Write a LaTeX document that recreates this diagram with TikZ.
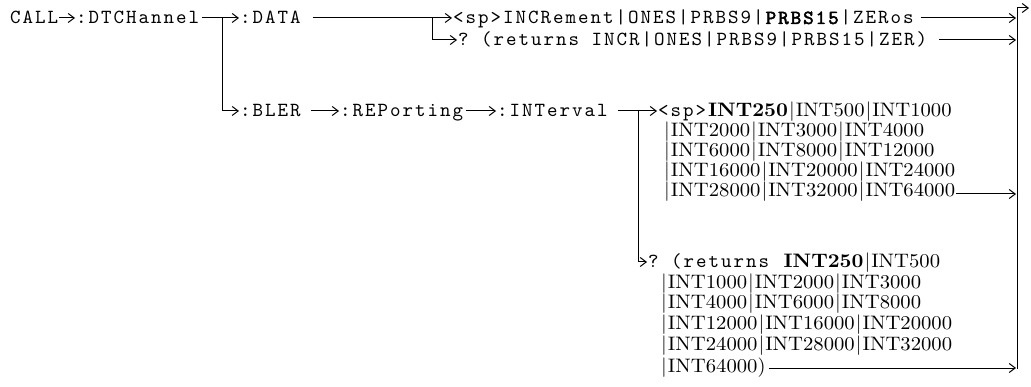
\documentclass[tikz,border=0pt]{standalone}
\usepackage{fontspec}
\setmainfont{lmroman10-regular}[Extension=.otf,BoldFont=lmroman10-bold,FakeStretch=1.06]
\setmonofont{lmmono10-regular}[Extension=.otf,BoldFont=lmmono10-regular,BoldFeatures={FakeBold=2.5},LetterSpace=10]
\usetikzlibrary{arrows.meta}
\newcommand\sr{\rmfamily\fontsize{19.5}{24}\selectfont}
\newcommand\vb{\kern1pt|\kern1pt}
\begin{document}
\begin{tikzpicture}[x=1pt,y=1pt,
  t/.style={inner sep=0pt,anchor=west,text height=12pt,text depth=0pt,
    font=\ttfamily\fontsize{20}{24}\selectfont},
  sr/.style={font=\sr},
  ln/.style={line width=1pt},
  arr/.style={ln,-{Straight Barb[length=6pt,width=9pt,line width=1pt]},shorten >=1pt}]
\useasboundingbox (0,0) rectangle (1031,-387);
% nodes
\node[t] (call) at (10,-18) {CALL};
\node[t] (dtc) at (76,-18) {:DTCHannel};
\node[t] (data) at (240,-18) {:DATA};
\node[t] (inc) at (453,-18) {<sp>INCRement|ONES|PRBS9|\textbf{PRBS15}|ZERos};
\node[t] (ret) at (458,-40) {? (returns INCR|ONES|PRBS9|PRBS15|ZER)};
\node[t] (bler) at (240,-111) {:BLER};
\node[t] (rep) at (340,-111) {:REPorting};
\node[t] (intv) at (497,-111) {:INTerval};
\node[t] (i1) at (658,-111) {<sp>{\sr\textbf{INT250}\vb INT500\vb INT1000}};
\node[t,sr] (i2) at (663,-131) {\vb INT2000\vb INT3000\vb INT4000};
\node[t,sr] (i3) at (663,-151) {\vb INT6000\vb INT8000\vb INT12000};
\node[t,sr] (i4) at (663,-171) {\vb INT16000\vb INT20000\vb INT24000};
\node[t,sr] (i5) at (663,-191) {\vb INT28000\vb INT32000\vb INT64000};
\node[t] (q1) at (648,-262) {? (returns {\sr\textbf{INT250}\vb INT500}};
\node[t,sr] (q2) at (660,-283) {\vb INT1000\vb INT2000\vb INT3000};
\node[t,sr] (q3) at (660,-303) {\vb INT4000\vb INT6000\vb INT8000};
\node[t,sr] (q4) at (660,-324) {\vb INT12000\vb INT16000\vb INT20000};
\node[t,sr] (q5) at (660,-345) {\vb INT24000\vb INT28000\vb INT32000};
\node[t,sr] (q6) at (660,-366) {\vb INT64000)};
% junctions and rail
\coordinate (j1) at (222,-18);
\coordinate (j2) at (432,-18);
\coordinate (j3) at (638,-111);
\coordinate (rt) at (1017,-8);
\coordinate (rb) at (1017,-369);
\coordinate (out) at (1030,-8);
% connectors
\draw[arr,shorten <=1pt] (call.east) -- (dtc.west);
\draw[arr,shorten <=3pt] (dtc.east) -- (data.west);
\draw[arr] (j1) |- (bler.west);
\draw[arr,shorten <=12pt] (data.east) -- (inc.west);
\draw[arr] (j2) |- (ret.west);
\draw[arr,shorten <=7pt] (inc.east) -- (inc.east -| rt);
\draw[arr,shorten <=12pt] (ret.east) -- (ret.east -| rt);
\draw[arr,shorten <=10pt] (bler.east) -- (rep.west);
\draw[arr,shorten <=3pt] (rep.east) -- (intv.west);
\draw[arr,shorten <=10pt] (intv.east) -- (i1.west);
\draw[arr] (j3) |- (q1.west);
\draw[arr,shorten <=1pt] ([yshift=-3pt]i5.east) -- ([yshift=-3pt]i5.east -| rt);
\draw[arr,shorten <=3pt] ([yshift=-2pt]q6.east) -- ([yshift=-2pt]q6.east -| rt);
\draw[ln] (rb) -- (rt);
\draw[arr] (rt) -- (out);
\end{tikzpicture}
\end{document}
